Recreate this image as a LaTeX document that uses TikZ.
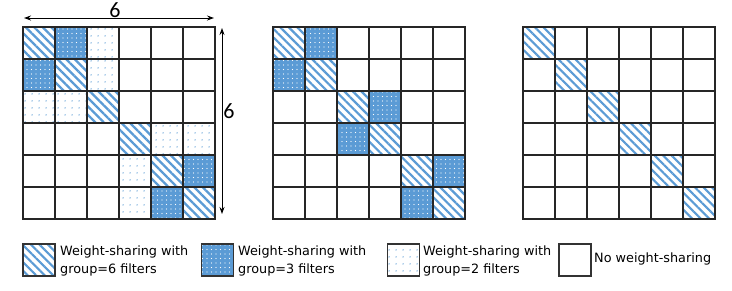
\documentclass[tikz,border=0pt]{standalone}
\usepackage{fontspec}
\setmainfont{DejaVu Sans}
\newfontfamily\numfont{Carlito}
\usetikzlibrary{patterns.meta,arrows.meta}
\definecolor{sblue}{RGB}{91,155,213}
\tikzset{
 stripes/.style={pattern={Lines[angle=-45,distance=6pt,line width=2.2pt]},pattern color=sblue},
 densedots/.style={preaction={fill=sblue},pattern={Dots[distance=4.5pt,radius=0.65pt]},pattern color=white},
 sparsedots/.style={pattern={Dots[distance=6.5pt,radius=0.75pt]},pattern color=sblue},
 gridline/.style={line width=1.4pt, draw=black!85, line cap=rect},
 dimarrow/.style={line width=0.9pt,{Stealth[length=7pt,width=5pt]}-{Stealth[length=7pt,width=5pt]}},
 cell/.style={minimum width=32pt,minimum height=32pt,inner sep=0pt,outer sep=0pt},
 legbox/.style={draw=black!80,line width=1.3pt,minimum width=32pt,minimum height=32pt,inner sep=0pt},
 legtext/.style={anchor=west,align=left,inner sep=0pt,font=\fontsize{12.8}{18}\selectfont},
 dimlabel/.style={inner sep=0pt,font=\numfont\fontsize{22}{22}\selectfont},
}
\begin{document}
\begin{tikzpicture}[x=1pt,y=-1pt]
\useasboundingbox (0,0) rectangle (732,290);
% cells
\foreach \g/\xo in {1/23,2/273,3/523} {
  \foreach \r in {0,...,5} {
    \foreach \c in {0,...,5} {
      \node[cell] (g\g-\r-\c) at (\xo+16+\c*32, 43+\r*32) {};
    }
  }
}
% grid 1
\foreach \r/\c in {0/0,1/1,2/2,3/3,4/4,5/5}
  \path[stripes] (g1-\r-\c.north west) rectangle (g1-\r-\c.south east);
\foreach \r/\c in {0/1,1/0,4/5,5/4}
  \path[densedots] (g1-\r-\c.north west) rectangle (g1-\r-\c.south east);
\foreach \r/\c in {0/2,1/2,2/0,2/1,3/4,3/5,4/3,5/3}
  \path[sparsedots] (g1-\r-\c.north west) rectangle (g1-\r-\c.south east);
% grid 2
\foreach \r/\c in {0/0,1/1,2/2,3/3,4/4,5/5}
  \path[stripes] (g2-\r-\c.north west) rectangle (g2-\r-\c.south east);
\foreach \r/\c in {0/1,1/0,2/3,3/2,4/5,5/4}
  \path[densedots] (g2-\r-\c.north west) rectangle (g2-\r-\c.south east);
% grid 3
\foreach \r/\c in {0/0,1/1,2/2,3/3,4/4,5/5}
  \path[stripes] (g3-\r-\c.north west) rectangle (g3-\r-\c.south east);
% grid lines
\foreach \xo in {23,273,523} {
  \foreach \i in {0,...,6} {
    \draw[gridline] (\xo+\i*32,27) -- (\xo+\i*32,219);
    \draw[gridline] (\xo,27+\i*32) -- (\xo+192,27+\i*32);
  }
}
% dimension arrows
\coordinate (ha) at (24,18);
\coordinate (hb) at (214,18);
\draw[dimarrow] (ha) -- (hb);
\node[dimlabel] (hl) at (115,10) {6};
\coordinate (va) at (222,28);
\coordinate (vb) at (222,214);
\draw[dimarrow] (va) -- (vb);
\node[dimlabel] (vl) at (229,111) {6};
% legend
\node[legbox,stripes] (l1) at (39,260) {};
\node[legtext] (t1) at (60,261) {Weight-sharing with\\group=6 filters};
\node[legbox,densedots] (l2) at (217.5,260) {};
\node[legtext] (t2) at (238,261) {Weight-sharing with\\group=3 filters};
\node[legbox,sparsedots] (l3) at (403.5,260) {};
\node[legtext] (t3) at (423,261) {Weight-sharing with\\group=2 filters};
\node[legbox] (l4) at (575,260) {};
\node[legtext] (t4) at (594,259) {No weight-sharing};
\end{tikzpicture}
\end{document}
